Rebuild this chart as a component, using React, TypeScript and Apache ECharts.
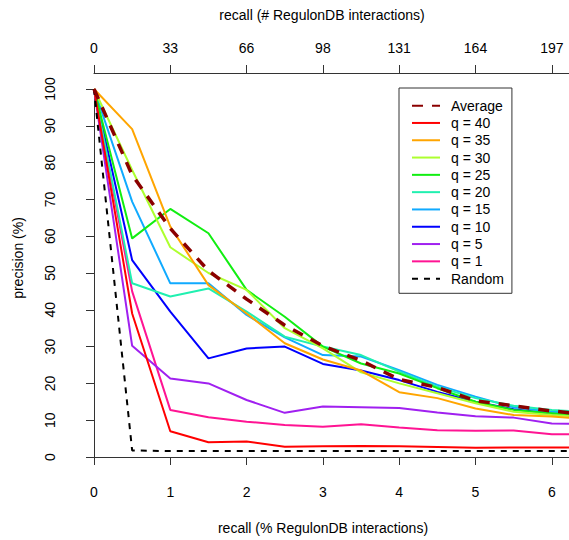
import React, { useEffect, useRef } from "react";
import * as echarts from "echarts";

// recall (% RegulonDB interactions) at which precision was sampled
const recallPct = [0, 0.5, 1, 1.5, 2, 2.5, 3, 3.5, 4, 4.5, 5, 5.5, 6, 6.5];
const bottomTickValues = [0, 1, 2, 3, 4, 5, 6];
const topTickLabels = ["0", "33", "66", "98", "131", "164", "197"];

// precision (%) per series
const average = [100, 76.6, 62.1, 50.6, 42.9, 35.8, 30.2, 26.2, 21.1, 18.9, 15.3, 13.9, 12.5, 11.5];
const q40 = [100, 39, 7.0, 4.0, 4.2, 2.8, 2.9, 3.0, 2.9, 2.7, 2.5, 2.6, 2.6, 2.6];
const q35 = [100, 89.1, 62.6, 46.7, 39.0, 30.9, 26.5, 23.5, 17.6, 16.0, 13.2, 11.4, 11.0, 10.3];
const q30 = [100, 78, 57.0, 50.0, 45.4, 35.0, 29.5, 23.0, 20.0, 17.3, 14.6, 12.3, 11.4, 10.8];
const q25 = [100, 59.4, 67.4, 60.8, 45.4, 38.1, 30.0, 25.4, 22.7, 18.7, 15.0, 12.8, 11.9, 11.0];
const q20 = [100, 47.2, 43.6, 45.8, 39.5, 32.7, 30.0, 27.7, 23.2, 19.1, 16.0, 13.9, 12.8, 12.2];
const q15 = [100, 69.4, 47.2, 47.2, 38.6, 32.5, 27.7, 27.3, 23.6, 19.6, 16.4, 13.5, 12.3, 11.8];
const q10 = [100, 53.5, 39.5, 26.8, 29.5, 30.0, 25.3, 23.5, 20.9, 17.7, 15.0, 13.0, 11.8, 11.2];
const q5 = [100, 30.2, 21.3, 20.0, 15.5, 12.0, 13.7, 13.5, 13.3, 12.1, 11.1, 10.7, 9.1, 9.0];
const q1 = [100, 45, 12.8, 10.8, 9.6, 8.7, 8.2, 8.9, 8.0, 7.3, 7.1, 7.2, 6.2, 6.2];
const random = [100, 1.8, 1.6, 1.6, 1.6, 1.6, 1.6, 1.6, 1.6, 1.6, 1.6, 1.6, 1.6, 1.6];

const FONT = '"Liberation Sans", Arial, Helvetica, sans-serif';

const solidSeries = [
  { name: "q = 1", data: q1, color: "#FF1493" },
  { name: "q = 5", data: q5, color: "#A020F0" },
  { name: "q = 10", data: q10, color: "#0000FF" },
  { name: "q = 15", data: q15, color: "#10AAFF" },
  { name: "q = 20", data: q20, color: "#20F0B0" },
  { name: "q = 25", data: q25, color: "#11EE11" },
  { name: "q = 30", data: q30, color: "#ADFF2F" },
  { name: "q = 35", data: q35, color: "#FFA500" },
  { name: "q = 40", data: q40, color: "#FF0000" },
];

const legendOrder = [
  "Average", "q = 40", "q = 35", "q = 30", "q = 25", "q = 20",
  "q = 15", "q = 10", "q = 5", "q = 1", "Random",
];

function toPoints(vals: number[]) {
  return recallPct.map((x, i) => [x, vals[i]]);
}

export default function App() {
  const ref = useRef<HTMLDivElement>(null);
  useEffect(() => {
    if (!ref.current) return;
    const chart = echarts.init(ref.current, undefined, { renderer: "svg" });
    const axisLine = { show: true, lineStyle: { color: "#333", width: 1 } };
    const labelStyle = { color: "#000", fontSize: 14, fontFamily: FONT };
    const series: any[] = solidSeries.map((s) => ({
      type: "line",
      name: s.name,
      data: toPoints(s.data),
      symbol: "none",
      clip: false,
      lineStyle: { color: s.color, width: 2 },
      itemStyle: { color: s.color },
      z: 2,
    }));
    series.push({
      type: "line",
      name: "Random",
      data: toPoints(random),
      symbol: "none",
      clip: false,
      lineStyle: { color: "#000", width: 2, type: [6, 6] },
      itemStyle: { color: "#000" },
      z: 3,
    });
    series.push({
      type: "line",
      name: "Average",
      data: toPoints(average),
      symbol: "none",
      clip: false,
      lineStyle: { color: "#8B0000", width: 3.5, type: [11, 9] },
      itemStyle: { color: "#8B0000" },
      z: 4,
    });
    chart.setOption({
      animation: false,
      backgroundColor: "#fff",
      grid: { left: 94, top: 89, width: 475, height: 368 },
      xAxis: [
        {
          type: "value",
          position: "bottom",
          offset: 9,
          min: 0,
          max: 475 / 76.3,
          interval: 1,
          axisLine,
          axisTick: { show: true, length: 8, lineStyle: { color: "#333" }, customValues: bottomTickValues },
          axisLabel: {
            ...labelStyle,
            margin: 19,
            customValues: bottomTickValues,
            formatter: (v: number) => (Math.abs(v - Math.round(v)) < 1e-6 ? String(Math.round(v)) : ""),
          },
          splitLine: { show: false },
        },
        {
          type: "value",
          position: "top",
          offset: 16,
          min: 0,
          max: 475 / 76.3,
          interval: 1,
          axisLine,
          axisTick: { show: true, length: 8, lineStyle: { color: "#333" }, customValues: bottomTickValues },
          axisLabel: {
            ...labelStyle,
            margin: 18,
            customValues: bottomTickValues,
            formatter: (v: number) => {
              const r = Math.round(v);
              return Math.abs(v - r) < 1e-6 && topTickLabels[r] !== undefined ? topTickLabels[r] : "";
            },
          },
          splitLine: { show: false },
        },
      ],
      yAxis: {
        type: "value",
        position: "left",
        offset: 18,
        min: 0,
        max: 100,
        interval: 10,
        axisLine,
        axisTick: { show: true, length: 8, lineStyle: { color: "#333" } },
        axisLabel: { ...labelStyle, margin: 19, rotate: 90 },
        splitLine: { show: false },
      },
      legend: {
        orient: "vertical",
        left: 399,
        top: 88,
        padding: [9, 8, 6, 12],
        itemWidth: 28,
        itemHeight: 10,
        itemGap: 0,
        data: legendOrder,
        borderColor: "#333",
        borderWidth: 1,
        borderRadius: 0,
        backgroundColor: "#fff",
        itemStyle: { opacity: 0 },
        textStyle: { color: "#000", fontSize: 14, fontFamily: FONT, lineHeight: 17.3, padding: [0, 0, 0, 6] },
      },
      graphic: [
        {
          type: "text",
          x: 322,
          y: 15,
          style: {
            text: "recall (# RegulonDB interactions)",
            font: `14px ${FONT}`,
            fill: "#000",
            align: "center",
            verticalAlign: "middle",
          },
        },
        {
          type: "text",
          x: 323,
          y: 528,
          style: {
            text: "recall (% RegulonDB interactions)",
            font: `14px ${FONT}`,
            fill: "#000",
            align: "center",
            verticalAlign: "middle",
          },
        },
        {
          type: "text",
          x: 18,
          y: 258,
          rotation: Math.PI / 2,
          style: {
            text: "precision (%)",
            font: `14px ${FONT}`,
            fill: "#000",
            align: "center",
            verticalAlign: "middle",
          },
        },
      ],
      series,
    });
    return () => chart.dispose();
  }, []);
  return (
    <div
      ref={ref}
      style={{ position: "fixed", left: 0, top: 0, width: 569, height: 540, overflow: "hidden", background: "#fff" }}
    />
  );
}
